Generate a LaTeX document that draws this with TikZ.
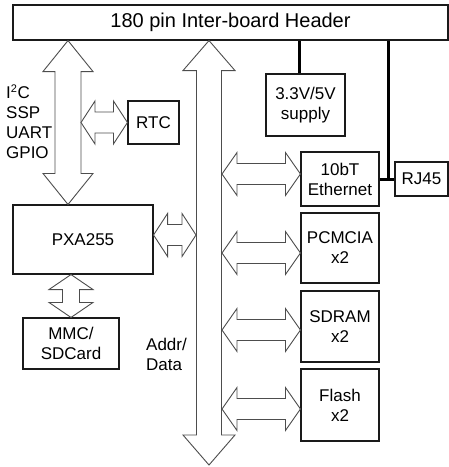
\documentclass[tikz,border=0pt]{standalone}
\usepackage{fontspec}
\setmainfont{Liberation Sans}
\usetikzlibrary{calc}
\definecolor{brdLine}{HTML}{1A1A1A}
\definecolor{busLine}{HTML}{4D4D4D}
\tikzset{
  block/.style={
    rectangle,
    draw=brdLine,
    line width=1.1pt,
    fill=white,
    align=center,
    inner sep=0pt,
    font=\fontsize{17}{20}\selectfont
  },
  header/.style={block, font=\fontsize{20}{24}\selectfont},
  sigtext/.style={align=left, inner sep=0pt, font=\fontsize{17}{20}\selectfont},
  busarrow/.style={draw=busLine, line width=0.9pt, fill=white, line join=miter},
  wire/.style={draw=black, line width=3pt}
}
% #1 top tip, #2 bottom tip, #3 head half width, #4 shaft half width, #5 head length
\newcommand{\vbus}[5]{%
  \draw[busarrow] (#1) -- ++(#3,#5) -- ++(#4-#3,0) -- ($(#2)+(#4,-#5)$) -- ++(#3-#4,0)
    -- (#2) -- ++(-#3,-#5) -- ++(#3-#4,0) -- ($(#1)+(-#4,#5)$) -- ++(#4-#3,0) -- cycle;}
% #1 left tip, #2 right tip, #3 head half width, #4 shaft half width, #5 head length
\newcommand{\hbus}[5]{%
  \draw[busarrow] (#1) -- ++(#5,-#3) -- ++(0,#3-#4) -- ($(#2)+(-#5,-#4)$) -- ++(0,#4-#3)
    -- (#2) -- ++(-#5,#3) -- ++(0,#4-#3) -- ($(#1)+(#5,#4)$) -- ++(0,#3-#4) -- cycle;}
\begin{document}
\begin{tikzpicture}[x=1pt, y=-1pt]
  \useasboundingbox (0,0) rectangle (449,467);
  \node[header, minimum width=435pt, minimum height=35pt] (hdr) at (230.5,22.5) {180 pin Inter-board Header};
  \node[block, minimum width=51pt, minimum height=43pt] (rtc) at (153.5,122.5) {RTC};
  \node[block, minimum width=140pt, minimum height=69pt] (pxa) at (83,239.5) {PXA255};
  \node[block, minimum width=96pt, minimum height=51pt] (mmc) at (71,343.5) {MMC/\\SDCard};
  \node[block, minimum width=79pt, minimum height=62pt] (sup) at (305.5,105) {3.3V/5V\\supply};
  \node[block, minimum width=78pt, minimum height=54pt] (eth) at (340,179) {10bT\\Ethernet};
  \node[block, minimum width=53pt, minimum height=34pt] (rj) at (421.5,179) {RJ45};
  \node[block, minimum width=78pt, minimum height=70pt] (pcm) at (340,248) {PCMCIA\\x2};
  \node[block, minimum width=78pt, minimum height=71pt] (sdr) at (340,326.5) {SDRAM\\x2};
  \node[block, minimum width=78pt, minimum height=72pt] (fla) at (340,405) {Flash\\x2};
  \node[sigtext, anchor=west] (sig) at (6,122) {I\textsuperscript{\fontsize{11}{11}\selectfont 2}C\\SSP\\UART\\GPIO};
  \node[sigtext, anchor=west] (addr) at (146,354) {Addr/\\Data};

  \coordinate (ioX) at (68,0);
  \coordinate (ioR) at (81,0);
  \coordinate (busX) at (209,0);
  \coordinate (busL) at (196,235);
  \coordinate (busR) at (222,0);
  \coordinate (busend) at (209,465);
  \coordinate (supX) at (299,0);
  \coordinate (rjX) at (388,0);
  \coordinate (ethIn) at ($(eth.west)+(0,-5)$);
  \coordinate (pcmIn) at ($(pcm.west)+(0,5)$);
  \coordinate (sdrIn) at ($(sdr.west)+(0,3.5)$);
  \coordinate (flaIn) at ($(fla.west)+(0,4)$);

  \vbus{hdr.south -| ioX}{pxa.north -| ioX}{25}{13}{31}
  \vbus{hdr.south -| busX}{busend}{26}{12.5}{30}
  \hbus{ioR |- rtc.west}{rtc.west}{21.5}{10.5}{14}
  \hbus{pxa.east |- busL}{busL}{21.5}{10.5}{14}
  \vbus{pxa.south -| mmc}{mmc.north}{22}{8.5}{15}
  \hbus{busR |- ethIn}{ethIn}{21.5}{10.5}{15}
  \hbus{busR |- pcmIn}{pcmIn}{21.5}{10.5}{15}
  \hbus{busR |- sdrIn}{sdrIn}{21.5}{10.5}{15}
  \hbus{busR |- flaIn}{flaIn}{21.5}{10.5}{15}

  \draw[wire] (sup.north -| supX) -- (hdr.south -| supX);
  \draw[wire] (eth.east) -- (rj.west);
  \draw[wire] (hdr.south -| rjX) -- (rjX |- eth.east);
\end{tikzpicture}
\end{document}
